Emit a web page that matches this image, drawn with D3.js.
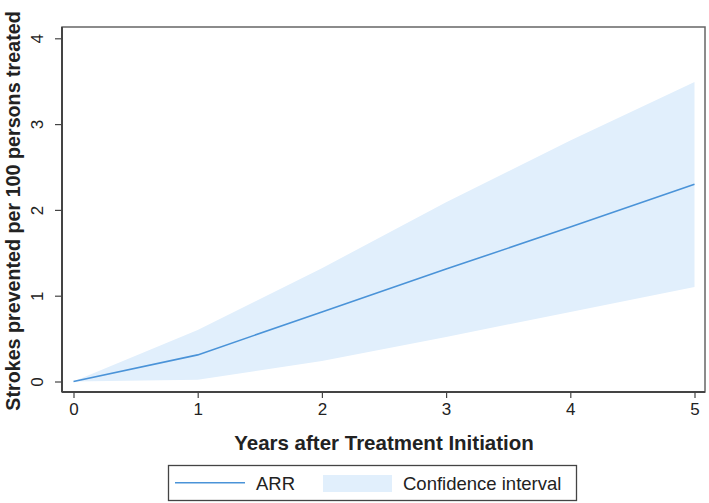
<!DOCTYPE html>
<html>
<head>
<meta charset="utf-8">
<script src="https://cdn.jsdelivr.net/npm/d3@7"></script>
<style>
  html, body { margin: 0; padding: 0; background: #fff; }
  svg { display: block; }
  text { font-family: "Liberation Sans", Arial, Helvetica, sans-serif; fill: #222; }
</style>
</head>
<body>
<svg id="chart" width="709" height="503"></svg>
<script>
// ---- data ----
const years = [0, 1, 2, 3, 4, 5];
const arr   = [0, 0.31, 0.81, 1.31, 1.80, 2.30];
const lower = [0, 0.02, 0.24, 0.52, 0.81, 1.10];
const upper = [0, 0.60, 1.32, 2.09, 2.81, 3.49];
const xTicks = [0, 1, 2, 3, 4, 5];
const yTicks = [0, 1, 2, 3, 4];
const xTitle = "Years after Treatment Initiation";
const yTitle = "Strokes prevented per 100 persons treated";
const legendLabels = ["ARR", "Confidence interval"];

const lineColor = "#4a93d8";
const fillColor = "#e1effc";

const svg = d3.select("#chart");

// frame
const frame = { left: 62, right: 705, top: 27, bottom: 392 };

const x = d3.scaleLinear().domain([0, 5]).range([73.5, 694.5]);
const y = d3.scaleLinear().domain([0, 4]).range([381.5, 38.3]);

const rows = years.map((t, i) => ({ t, v: arr[i], lo: lower[i], hi: upper[i] }));

// confidence band
svg.append("path")
  .datum(rows)
  .attr("fill", fillColor)
  .attr("stroke", "none")
  .attr("d", d3.area().x(d => x(d.t)).y0(d => y(d.lo)).y1(d => y(d.hi)));

// ARR line
svg.append("path")
  .datum(rows)
  .attr("fill", "none")
  .attr("stroke", lineColor)
  .attr("stroke-width", 1.6)
  .attr("d", d3.line().x(d => x(d.t)).y(d => y(d.v)));

// frame (top/right)
svg.append("rect")
  .attr("x", frame.left).attr("y", frame.top)
  .attr("width", frame.right - frame.left).attr("height", frame.bottom - frame.top)
  .attr("fill", "none").attr("stroke", "#666").attr("stroke-width", 1.5);

// x axis
const xAxis = svg.append("g")
  .attr("transform", `translate(0,${frame.bottom})`)
  .call(d3.axisBottom(x).tickValues(xTicks).tickFormat(d3.format("d")).tickSize(6).tickPadding(5).tickSizeOuter(0));
xAxis.select(".domain").attr("d", `M${frame.left},0H${frame.right}`).attr("stroke", "#444").attr("stroke-width", 2);
xAxis.selectAll(".tick line").attr("stroke", "#444").attr("stroke-width", 1.2);
xAxis.selectAll(".tick text").attr("font-size", 17).attr("fill", "#222")
  .attr("font-family", "'Liberation Sans', Arial, sans-serif");

// y axis
const yAxis = svg.append("g")
  .attr("transform", `translate(${frame.left},0)`)
  .call(d3.axisLeft(y).tickValues(yTicks).tickFormat(d3.format("d")).tickSize(7).tickSizeOuter(0));
yAxis.select(".domain").attr("d", `M0,${frame.top}V${frame.bottom}`).attr("stroke", "#444").attr("stroke-width", 2);
yAxis.selectAll(".tick line").attr("stroke", "#444").attr("stroke-width", 1.2);
yAxis.selectAll(".tick text")
  .attr("font-size", 17).attr("fill", "#222")
  .attr("font-family", "'Liberation Sans', Arial, sans-serif")
  .attr("x", null).attr("dy", null)
  .attr("text-anchor", "middle")
  .attr("transform", "translate(-19,0) rotate(-90)");

// axis titles
svg.append("text")
  .attr("x", 384).attr("y", 450)
  .attr("text-anchor", "middle")
  .attr("font-size", 20.5).attr("font-weight", "bold")
  .text(xTitle);

svg.append("text")
  .attr("transform", "translate(20,211) rotate(-90)")
  .attr("text-anchor", "middle")
  .attr("font-size", 19.7).attr("font-weight", "bold")
  .text(yTitle);

// legend
const lg = svg.append("g");
lg.append("rect")
  .attr("x", 168.5).attr("y", 465.5).attr("width", 408).attr("height", 35)
  .attr("fill", "#fff").attr("stroke", "#444").attr("stroke-width", 1.3);
lg.append("line")
  .attr("x1", 175).attr("x2", 245).attr("y1", 482.7).attr("y2", 482.7)
  .attr("stroke", lineColor).attr("stroke-width", 1.6);
lg.append("text").attr("x", 256).attr("y", 489.5).attr("font-size", 18.5).text(legendLabels[0]);
lg.append("rect")
  .attr("x", 323).attr("y", 475).attr("width", 69).attr("height", 17)
  .attr("fill", fillColor);
lg.append("text").attr("x", 403).attr("y", 489.5).attr("font-size", 18.5).text(legendLabels[1]);
</script>
</body>
</html>
